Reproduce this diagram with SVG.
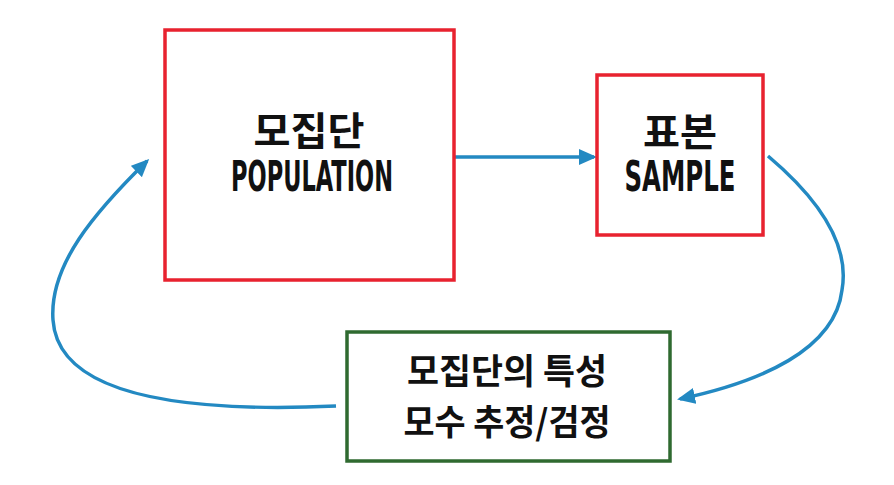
<svg xmlns="http://www.w3.org/2000/svg" width="894" height="485" viewBox="0 0 894 485">
<style>
.red{fill:#fff;stroke:#e8222f;stroke-width:3.5}
.green{fill:#fff;stroke:#2f6a30;stroke-width:3.5}
.ko{font-family:"Noto Sans CJK KR","Noto Sans",sans-serif;font-weight:700;fill:#111;text-anchor:middle}
.en{font-family:"DejaVu Sans Condensed","DejaVu Sans","Liberation Sans",sans-serif;font-weight:700;fill:#111;text-anchor:middle}
.con{fill:none;stroke:#2389c2;stroke-width:3.5}
</style>
<defs>
<marker id="ah" markerUnits="userSpaceOnUse" markerWidth="18" markerHeight="16" viewBox="0 0 18 16" refX="15" refY="8" orient="auto">
<path d="M0,0 L18,8 L0,16 Z" fill="#2389c2"/>
</marker>
</defs>
<rect width="894" height="485" fill="#fff"/>
<g id="connectors">
<path class="con" d="M452,157 L594,157" marker-end="url(#ah)"/>
<path class="con" d="M768,156 C820,200 850,245 842,290 C835,350 760,382 680,399" marker-end="url(#ah)"/>
<path class="con" d="M336,406 C180,413 58,395 53,320 C49,265 95,212 147,161" marker-end="url(#ah)"/>
</g>
<g id="population">
<rect class="red" x="165" y="30" width="289" height="250"/>
<text class="ko" x="309" y="145" font-size="39" textLength="111" lengthAdjust="spacingAndGlyphs">모집단</text>
<text class="en" x="312" y="191" font-size="42" textLength="162" lengthAdjust="spacingAndGlyphs">POPULATION</text>
</g>
<g id="sample">
<rect class="red" x="597" y="75" width="166" height="160"/>
<text class="ko" x="680" y="146" font-size="39" textLength="74" lengthAdjust="spacingAndGlyphs">표본</text>
<text class="en" x="680" y="191" font-size="42" textLength="111" lengthAdjust="spacingAndGlyphs">SAMPLE</text>
</g>
<g id="inference">
<rect class="green" x="347" y="332" width="323" height="129"/>
<text class="ko" x="507" y="384" font-size="35" textLength="200" lengthAdjust="spacingAndGlyphs">모집단의 특성</text>
<text class="ko" x="507" y="435" font-size="35" textLength="207" lengthAdjust="spacingAndGlyphs">모수 추정/검정</text>
</g>
</svg>
